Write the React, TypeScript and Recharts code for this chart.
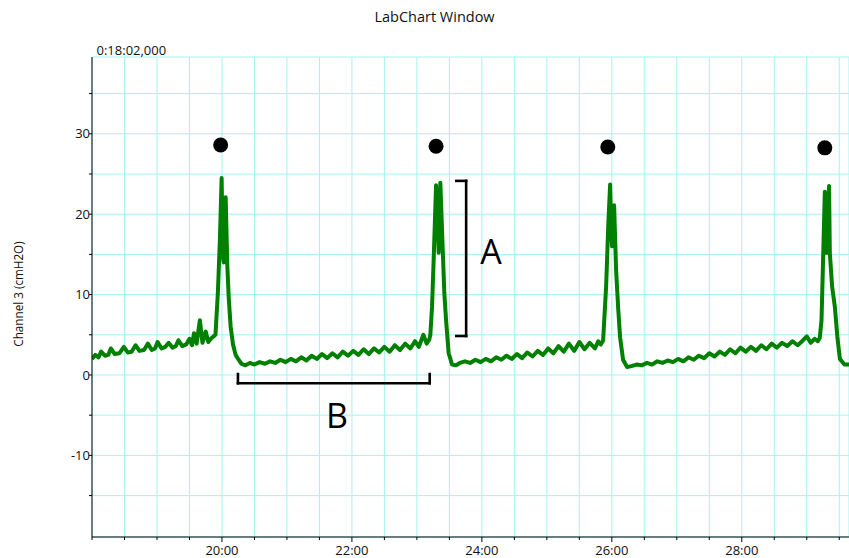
import React from "react";
import {
  LineChart,
  Line,
  XAxis,
  YAxis,
  CartesianGrid,
  ReferenceLine,
  ReferenceDot,
} from "recharts";

const FONT = "'Open Sans', 'Noto Sans', sans-serif";
const W = 849;
const H = 558;

// pressure trace, [minute, cmH2O]
const leadIn = [
  [18.0, 2.0], [18.05, 2.5], [18.1, 2.2], [18.14, 2.9], [18.2, 2.4], [18.25, 2.5],
  [18.29, 3.3], [18.35, 2.6], [18.42, 2.7], [18.49, 3.5], [18.55, 2.8], [18.61, 2.9],
  [18.67, 3.7], [18.73, 3.0], [18.8, 3.1], [18.86, 3.9], [18.92, 3.1], [18.97, 3.3],
  [19.01, 4.1], [19.07, 3.3], [19.13, 3.5], [19.18, 4.0], [19.24, 3.4], [19.29, 3.6],
  [19.33, 4.3], [19.39, 3.6], [19.45, 3.8], [19.5, 4.5], [19.54, 3.7], [19.57, 5.2],
  [19.61, 3.9], [19.66, 6.8], [19.7, 4.0], [19.75, 5.4], [19.79, 4.1], [19.83, 4.5],
  [19.87, 4.8],
];
const breath1 = [
  [19.9, 5.0], [19.937, 10.2], [19.969, 17], [19.995, 24.5], [20.012, 15], [20.028, 14],
  [20.045, 19], [20.057, 22.1], [20.083, 13.5], [20.105, 9.5], [20.134, 6.0], [20.17, 3.8],
  [20.21, 2.5], [20.256, 1.9], [20.3, 1.4],
];
const pauseB = [
  [20.36, 1.2], [20.43, 1.5], [20.5, 1.3], [20.58, 1.6], [20.66, 1.4], [20.74, 1.7],
  [20.82, 1.5], [20.9, 1.9], [20.98, 1.6], [21.06, 2.0], [21.14, 1.7], [21.22, 2.2],
  [21.3, 1.8], [21.38, 2.4], [21.46, 2.0], [21.54, 2.6], [21.62, 2.1], [21.7, 2.7],
  [21.78, 2.2], [21.86, 2.9], [21.94, 2.4], [22.02, 3.0], [22.1, 2.5], [22.18, 3.2],
  [22.26, 2.6], [22.34, 3.3], [22.42, 2.8], [22.5, 3.5], [22.58, 2.9], [22.66, 3.7],
  [22.74, 3.1], [22.82, 3.9], [22.9, 3.3], [22.97, 4.2], [23.03, 3.5], [23.1, 5.0],
  [23.15, 3.9], [23.19, 4.4],
];
const breath2 = [
  [23.207, 5.0], [23.233, 8.5], [23.258, 14.3], [23.295, 23.6], [23.32, 19.3], [23.335, 15.2],
  [23.361, 23.9], [23.387, 18], [23.422, 10.2], [23.449, 6.8], [23.489, 2.7], [23.541, 1.3],
  [23.6, 1.2],
];
const pauseC = [
  [23.66, 1.5], [23.74, 1.7], [23.82, 1.5], [23.9, 1.9], [23.98, 1.6], [24.06, 2.0],
  [24.14, 1.7], [24.22, 2.2], [24.3, 1.9], [24.38, 2.4], [24.46, 2.0], [24.54, 2.6],
  [24.62, 2.1], [24.7, 2.8], [24.78, 2.3], [24.86, 3.0], [24.94, 2.5], [25.02, 3.3],
  [25.1, 2.7], [25.18, 3.6], [25.26, 2.9], [25.34, 3.9], [25.42, 3.0], [25.5, 4.1],
  [25.58, 3.2], [25.66, 4.0], [25.74, 3.3], [25.79, 4.2], [25.83, 3.8],
];
const breath3 = [
  [25.866, 4.3], [25.912, 11], [25.947, 19], [25.974, 23.7], [25.99, 18], [26.004, 16],
  [26.02, 18], [26.035, 21.1], [26.066, 13], [26.097, 8.4], [26.127, 4.7], [26.173, 1.9],
  [26.235, 1.0],
];
const pauseD = [
  [26.3, 1.1], [26.38, 1.3], [26.46, 1.2], [26.54, 1.5], [26.62, 1.3], [26.7, 1.7],
  [26.78, 1.5], [26.86, 1.8], [26.94, 1.6], [27.02, 2.0], [27.1, 1.7], [27.18, 2.2],
  [27.26, 1.9], [27.34, 2.4], [27.42, 2.1], [27.5, 2.7], [27.58, 2.3], [27.66, 2.9],
  [27.74, 2.5], [27.82, 3.2], [27.9, 2.7], [27.98, 3.4], [28.06, 2.9], [28.14, 3.5],
  [28.22, 3.0], [28.3, 3.7], [28.38, 3.2], [28.46, 3.9], [28.54, 3.4], [28.62, 4.0],
  [28.7, 3.6], [28.78, 4.2], [28.86, 3.7], [28.94, 4.3], [29.0, 4.8], [29.06, 4.0],
  [29.12, 4.5], [29.17, 4.2],
];
const breath4 = [
  [29.2, 4.6], [29.227, 6.8], [29.25, 14], [29.278, 22.8], [29.29, 18], [29.304, 15.2],
  [29.32, 19], [29.343, 23.5], [29.355, 15.2], [29.39, 11], [29.432, 8.5], [29.47, 4.8],
  [29.51, 2.0], [29.58, 1.3], [29.65, 1.3],
];

// markers above each breath peak
const peakMarks = [
  [19.98, 28.6], [23.295, 28.45], [25.938, 28.35], [29.278, 28.25],
];

// bracket A (peak amplitude) and bracket B (pause length), as line segments
const bracketA = [
  [[23.607, 24.14], [23.758, 24.14]],
  [[23.758, 24.14], [23.758, 4.85]],
  [[23.758, 4.85], [23.607, 4.85]],
];
const bracketB = [
  [[20.246, 0.12], [20.246, -1.03]],
  [[20.246, -1.03], [23.197, -1.03]],
  [[23.197, -1.03], [23.197, 0.12]],
];
const letters = [
  { text: "A", x: 24.14, y: 15.35 },
  { text: "B", x: 21.77, y: -5.08 },
];

const xGridTicks = [
  18, 18.5, 19, 19.5, 20, 20.5, 21, 21.5, 22, 22.5, 23, 23.5, 24, 24.5, 25, 25.5,
  26, 26.5, 27, 27.5, 28, 28.5, 29, 29.5,
];
const xLabelTicks = [20, 22, 24, 26, 28];
const xTickLabels = ["20:00", "22:00", "24:00", "26:00", "28:00"];
const yGridTicks = [-15, -10, -5, 0, 5, 10, 15, 20, 25, 30, 35];
const yLabelTicks = [-10, 0, 10, 20, 30];

const trace = [
  ...leadIn, ...breath1, ...pauseB, ...breath2, ...pauseC, ...breath3, ...pauseD, ...breath4,
].map(([t, v]) => ({ t, v }));

function XTick({ x, y, payload }: any) {
  const i = xLabelTicks.indexOf(payload.value);
  return (
    <g>
      <line x1={x} x2={x} y1={y} y2={y + (i >= 0 ? 5 : 3)} stroke="#000" />
      {i >= 0 && (
        <text x={x} y={y + 17.5} textAnchor="middle" fontSize={13} fontFamily={FONT} fill="#111">
          {xTickLabels[i]}
        </text>
      )}
    </g>
  );
}

function YTick({ x, y, payload }: any) {
  const show = yLabelTicks.includes(payload.value);
  return (
    <g>
      <line x1={x - 3} x2={x} y1={y} y2={y} stroke="#000" />
      {show && (
        <text x={x - 2} y={y} dy="0.36em" textAnchor="end" fontSize={13} fontFamily={FONT} fill="#111">
          {payload.value}
        </text>
      )}
    </g>
  );
}

export default function App() {
  return (
    <div style={{ position: "absolute", left: 0, top: 0, width: W, height: H, background: "#fff" }}>
      <LineChart width={W} height={H} data={trace} margin={{ top: 57, right: 0, bottom: 0, left: 0 }}>
        <CartesianGrid stroke="#a4f3f3" strokeWidth={1} />
        <XAxis
          dataKey="t"
          type="number"
          domain={[18, 29.65]}
          allowDataOverflow
          ticks={xGridTicks}
          interval={0}
          height={21}
          tickSize={0}
          tickMargin={0}
          tickLine={false}
          axisLine={{ stroke: "#000" }}
          tick={<XTick />}
        />
        <YAxis
          type="number"
          domain={[-20.15, 39.55]}
          allowDataOverflow
          ticks={yGridTicks}
          interval={0}
          width={92}
          tickSize={0}
          tickMargin={0}
          tickLine={false}
          axisLine={{ stroke: "#000" }}
          tick={<YTick />}
        />
        <Line
          dataKey="v"
          type="linear"
          stroke="#008000"
          strokeWidth={4}
          strokeLinejoin="round"
          dot={false}
          isAnimationActive={false}
        />
        {[...bracketA, ...bracketB].map((seg, i) => (
          <ReferenceLine
            key={"br" + i}
            segment={[
              { x: seg[0][0], y: seg[0][1] },
              { x: seg[1][0], y: seg[1][1] },
            ]}
            stroke="#000"
            strokeWidth={2.6}
            strokeLinecap="square"
          />
        ))}
        {peakMarks.map(([t, v], i) => (
          <ReferenceDot key={"pk" + i} x={t} y={v} r={7.5} fill="#000" stroke="none" />
        ))}
        {letters.map((l) => (
          <ReferenceDot
            key={l.text}
            x={l.x}
            y={l.y}
            r={1}
            fill="none"
            stroke="none"
            label={{ value: l.text, position: "center", fontSize: 34, fill: "#000", fontFamily: FONT }}
          />
        ))}
      </LineChart>
      <svg width={W} height={H} style={{ position: "absolute", left: 0, top: 0, pointerEvents: "none" }}>
        <text x={434.5} y={21.5} textAnchor="middle" fontSize={14.5} fontFamily={FONT} fill="#111">
          LabChart Window
        </text>
        <text x={96.5} y={55} fontSize={13} fontFamily={FONT} fill="#111">
          0:18:02,000
        </text>
        <text
          transform="translate(18,294) rotate(-90)"
          textAnchor="middle"
          dominantBaseline="central"
          fontSize={11.7}
          fontFamily={FONT}
          fill="#111"
        >
          Channel 3 (cmH2O)
        </text>
      </svg>
    </div>
  );
}
